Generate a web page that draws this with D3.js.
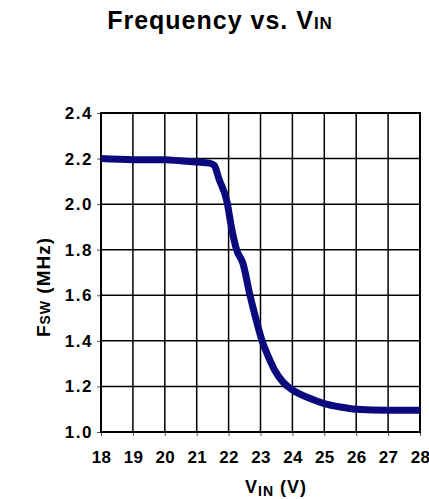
<!DOCTYPE html>
<html>
<head>
<meta charset="utf-8">
<script src="https://cdn.jsdelivr.net/npm/d3@7"></script>
<style>
  body { margin: 0; background: #fff; }
  text { font-family: "Liberation Sans", Arial, sans-serif; font-weight: bold; fill: #000; }
</style>
</head>
<body>
<svg id="chart" width="429" height="499"></svg>
<script>
// values
const vin = [18, 19, 20, 20.5, 21, 21.4, 21.55, 21.7, 21.95, 22.1, 22.25, 22.45, 22.67, 22.85, 23.05, 23.25, 23.45, 23.7, 24, 24.5, 25, 25.5, 26, 27, 28]
const fsw = [2.20, 2.195, 2.195, 2.19, 2.185, 2.18, 2.17, 2.11, 2.01, 1.89, 1.8, 1.74, 1.6, 1.5, 1.4, 1.33, 1.27, 1.22, 1.185, 1.15, 1.125, 1.11, 1.10, 1.095, 1.095]
const xTicks = [18, 19, 20, 21, 22, 23, 24, 25, 26, 27, 28]
const yTicks = [1.0, 1.2, 1.4, 1.6, 1.8, 2.0, 2.2, 2.4]

const svg = d3.select("#chart")
  , mLeft = 101, mRight = 420, mTop = 113, mBottom = 432;

const x = d3.scaleLinear().domain([18, 28]).range([mLeft, mRight])
const y = d3.scaleLinear().domain([1.0, 2.4]).range([mBottom, mTop])

//grid
svg.append("g").selectAll("line").data(xTicks).enter().append("line")
  .attr("x1", d => x(d)).attr("x2", d => x(d))
  .attr("y1", mTop).attr("y2", mBottom)
  .attr("stroke", "#000").attr("stroke-width", 1.5)
svg.append("g").selectAll("line").data(yTicks).enter().append("line")
  .attr("x1", mLeft).attr("x2", mRight)
  .attr("y1", d => y(d)).attr("y2", d => y(d))
  .attr("stroke", "#000").attr("stroke-width", 1.5)

//axes
const xAxis = svg.append("g").attr("transform", "translate(0," + mBottom + ")")
  .call(d3.axisBottom(x).tickValues(xTicks).tickSize(4).tickPadding(15).tickFormat(d3.format("d")))
const yAxis = svg.append("g").attr("transform", "translate(" + mLeft + ",0)")
  .call(d3.axisLeft(y).tickValues(yTicks).tickSize(4).tickPadding(4).tickFormat(d3.format(".1f")))
;[xAxis, yAxis].forEach(a => {
  a.select(".domain").remove()
  a.selectAll("line").attr("stroke", "#555").attr("stroke-width", 1)
  a.selectAll("text").style("font-family", "Liberation Sans, Arial, sans-serif").style("font-weight", "bold")
})
xAxis.selectAll("text").style("font-size", "17px").style("letter-spacing", "0.3px")
yAxis.selectAll("text").style("font-size", "17px").style("letter-spacing", "1.5px")

//frame
svg.append("rect").attr("x", mLeft).attr("y", mTop).attr("width", mRight - mLeft).attr("height", mBottom - mTop)
  .attr("fill", "none").attr("stroke", "#000").attr("stroke-width", 2)

//curve
const line = d3.line().x((d, i) => x(vin[i])).y(d => y(d)).curve(d3.curveMonotoneX)
svg.append("path").datum(fsw).attr("d", line)
  .attr("fill", "none").attr("stroke", "#0a0a7e").attr("stroke-width", 7)
  .attr("stroke-linejoin", "round").attr("stroke-linecap", "butt")

//title
const title = svg.append("text").attr("x", 220).attr("y", 29).attr("text-anchor", "middle")
  .style("font-size", "25px").style("letter-spacing", "1px")
title.append("tspan").text("Frequency vs. V")
title.append("tspan").text("IN").style("font-size", "17px")

//y label
const yl = svg.append("text").attr("transform", "translate(50,287) rotate(-90)").attr("text-anchor", "middle")
  .style("font-size", "19px").style("letter-spacing", "1px")
yl.append("tspan").text("F")
yl.append("tspan").text("SW").style("font-size", "14px")
yl.append("tspan").text(" (MHz)")

//x label
const xl = svg.append("text").attr("x", 276).attr("y", 493).attr("text-anchor", "middle")
  .style("font-size", "18px").style("letter-spacing", "1px")
xl.append("tspan").text("V")
xl.append("tspan").text("IN").style("font-size", "14px").attr("dy", 3)
xl.append("tspan").text(" (V)").attr("dy", -3)
</script>
</body>
</html>
